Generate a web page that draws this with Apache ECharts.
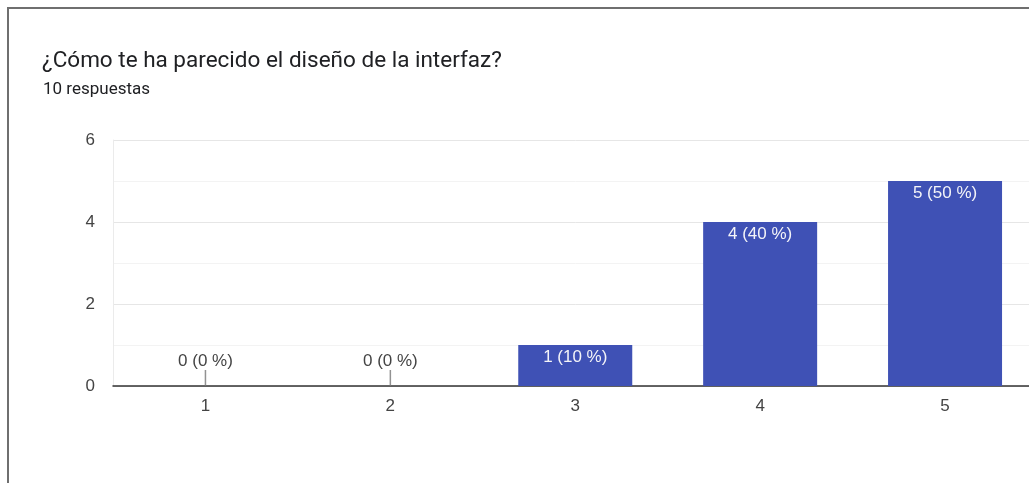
<!DOCTYPE html>
<html>
<head>
<meta charset="utf-8">
<script src="https://cdn.jsdelivr.net/npm/echarts@6/dist/echarts.min.js"></script>
<style>
html,body{margin:0;padding:0;background:#fff;overflow:hidden;width:1029px;height:483px;}
#frame{position:absolute;left:7px;top:7px;width:1030px;height:490px;border-left:2.5px solid #6f6f6f;border-top:2px solid #6f6f6f;}
#chart{position:absolute;left:0;top:0;width:1040px;height:483px;}
</style>
</head>
<body>
<div id="frame"></div>
<div id="chart"></div>
<script>
const title = '¿Cómo te ha parecido el diseño de la interfaz?';
const subtitle = '10 respuestas';
const categories = ['1', '2', '3', '4', '5'];
const counts = [0, 0, 1, 4, 5];
const percents = [0, 0, 10, 40, 50];
const yTicks = [0, 2, 4, 6];

const font = 'Roboto, "Noto Sans", Arial, sans-serif';
const chartFont = '"Liberation Sans", Arial, sans-serif';
const chart = echarts.init(document.getElementById('chart'), null, {renderer: 'canvas'});

const barData = counts.map((v, i) => ({
  value: v,
  label: v === 0
    ? {position: 'top', distance: 16, color: '#444444'}
    : {position: 'insideTop', distance: 4, color: '#f4f4f8'}
}));
const zeroMarks = counts.map((v, i) => v === 0 ? [i, v] : [i, '-']);

chart.setOption({
  animation: false,
  title: [{
    text: title, left: 37, top: 45,
    textStyle: {fontFamily: font, fontSize: 22.5, fontWeight: 'normal', color: '#202124'}
  }, {
    text: subtitle, left: 38, top: 76,
    textStyle: {fontFamily: font, fontSize: 17, fontWeight: 'normal', color: '#202124'}
  }],
  grid: {left: 113, top: 140, bottom: 97, right: 2.5, containLabel: false},
  xAxis: {
    type: 'category', data: categories,
    axisTick: {show: false},
    axisLine: {lineStyle: {color: '#333333', width: 1.5}},
    axisLabel: {margin: 12, fontFamily: chartFont, fontSize: 17, color: '#444444'},
    splitLine: {show: false}
  },
  yAxis: {
    type: 'value', min: yTicks[0], max: yTicks[yTicks.length - 1], interval: 2,
    axisLine: {show: true, lineStyle: {color: '#ebebeb'}},
    axisTick: {show: false},
    axisLabel: {margin: 18, fontFamily: chartFont, fontSize: 17, color: '#444444'},
    splitLine: {lineStyle: {color: '#e6e6e6'}},
    minorTick: {show: false, splitNumber: 2},
    minorSplitLine: {show: true, lineStyle: {color: '#f3f3f3'}}
  },
  series: [{
    type: 'bar', data: barData, barWidth: 114,
    itemStyle: {color: '#3f51b5'},
    label: {
      show: true, fontFamily: chartFont, fontSize: 17,
      formatter: p => counts[p.dataIndex] + ' (' + percents[p.dataIndex] + ' %)'
    },
    z: 3
  }, {
    type: 'scatter', data: zeroMarks,
    symbol: 'rect', symbolSize: [1.5, 16], symbolOffset: [0, -8],
    itemStyle: {color: '#777777'}, silent: true, z: 4
  }]
});
</script>
</body>
</html>
